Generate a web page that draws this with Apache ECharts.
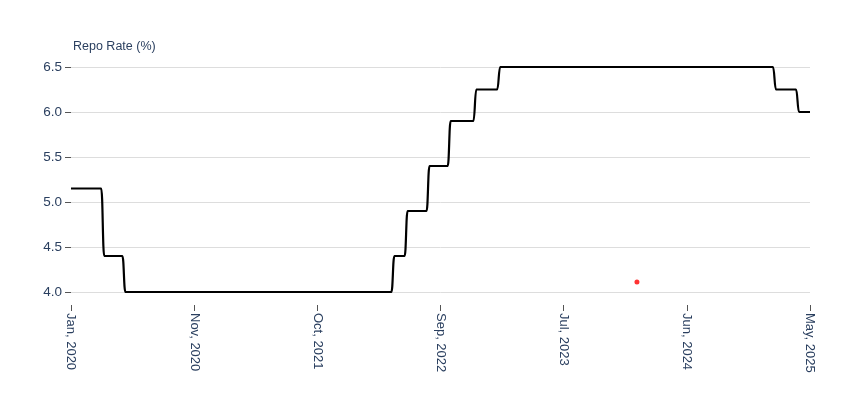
<!DOCTYPE html>
<html>
<head>
<meta charset="utf-8">
<script src="https://cdn.jsdelivr.net/npm/echarts@6/dist/echarts.min.js"></script>
<style>
  html, body { margin: 0; padding: 0; background: #fff; }
  #chart { width: 860px; height: 407px; }
</style>
</head>
<body>
<div id="chart"></div>
<script>
// ---- Data ----
const startDate = '2020-01-01';
const startRate = 5.15;
const endDate = '2025-05-10';
const changeDates = ['2020-03-27', '2020-05-22', '2022-05-04', '2022-06-08', '2022-08-05',
                     '2022-09-30', '2022-12-07', '2023-02-08', '2025-02-07', '2025-04-09'];
const changeRates = [4.40, 4.00, 4.40, 4.90, 5.40, 5.90, 6.25, 6.50, 6.25, 6.00];
const markerDate = ['2024-02-07'];
const markerValue = [4.11];
const yTicks = [4.0, 4.5, 5.0, 5.5, 6.0, 6.5];
const monthNames = ['Jan', 'Feb', 'Mar', 'Apr', 'May', 'Jun', 'Jul', 'Aug', 'Sep', 'Oct', 'Nov', 'Dec'];

// ---- Helpers ----
const DAY = 86400000;
const t0 = Date.parse(startDate + 'T00:00:00Z');
function dayOf(s) { return Math.round((Date.parse(s + 'T00:00:00Z') - t0) / DAY); }
const endDay = dayOf(endDate);
const tickStep = endDay / 6;

// step series: each change has a short S-shaped transition
const halfW = 4;
const lineData = [[0, startRate]];
let prev = startRate;
changeDates.forEach((d, i) => {
  const day = dayOf(d);
  lineData.push([day - halfW - 2, prev]);
  lineData.push([day + halfW - 2, changeRates[i]]);
  prev = changeRates[i];
});
lineData.push([endDay, prev]);

const markerData = markerDate.map((d, i) => [dayOf(d), markerValue[i]]);

const textColor = '#2a3f5f';
const fontFamily = '"Liberation Sans", Arial, sans-serif';

const chart = echarts.init(document.getElementById('chart'));
chart.setOption({
  animation: false,
  backgroundColor: '#ffffff',
  title: {
    text: 'Repo Rate (%)',
    left: 73, top: 40, padding: 0,
    textStyle: { fontSize: 12.5, fontWeight: 'normal', color: textColor, fontFamily: fontFamily }
  },
  grid: { left: 71, right: 50, top: 67, bottom: 115, containLabel: false },
  xAxis: {
    type: 'value',
    min: 0, max: endDay, interval: tickStep,
    offset: 13,
    axisLine: { show: false },
    axisTick: { show: true, length: 6, lineStyle: { color: '#555', width: 1 } },
    splitLine: { show: false },
    axisLabel: {
      rotate: -90, margin: 8, fontSize: 13, color: textColor, fontFamily: fontFamily,
      showMinLabel: true, showMaxLabel: true,
      formatter: function (v) {
        const dt = new Date(t0 + v * DAY);
        return monthNames[dt.getUTCMonth()] + ', ' + dt.getUTCFullYear();
      }
    }
  },
  yAxis: {
    type: 'value',
    min: yTicks[0], max: yTicks[yTicks.length - 1], interval: 0.5,
    offset: 2,
    axisLine: { show: false },
    axisTick: { show: true, length: 6, lineStyle: { color: '#555', width: 1 } },
    splitLine: { show: true, lineStyle: { color: '#dddddd', width: 1 } },
    axisLabel: {
      margin: 7, fontSize: 13.5, color: textColor, fontFamily: fontFamily,
      formatter: function (v) { return v.toFixed(1); }
    }
  },
  series: [
    {
      type: 'line',
      data: lineData,
      smooth: 0.5,
      smoothMonotone: 'x',
      symbol: 'none',
      clip: false,
      lineStyle: { color: '#000000', width: 2.2 }
    },
    {
      type: 'scatter',
      data: markerData,
      symbolSize: 5,
      itemStyle: { color: '#ff0000' }
    }
  ]
});
</script>
</body>
</html>
